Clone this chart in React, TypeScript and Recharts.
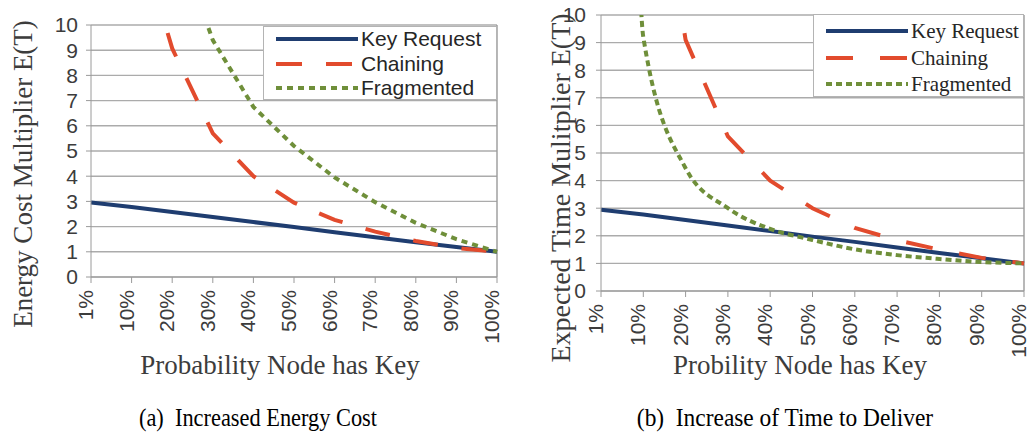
import React from "react";
import {
    LineChart,
    Line,
    XAxis,
    YAxis,
    CartesianGrid,
    ReferenceLine,
} from "recharts";

// probability that a node already holds the key
const categories = ["1%", "10%", "20%", "30%", "40%", "50%", "60%", "70%", "80%", "90%", "100%"];
const yTicks = [0, 1, 2, 3, 4, 5, 6, 7, 8, 9, 10];

// (a) energy cost multiplier
const energyKeyRequest = [2.96, 2.78, 2.58, 2.38, 2.18, 1.98, 1.78, 1.58, 1.38, 1.19, 1.0];
const energyChaining = [60, 14.5, 9.07, 5.7, 4.0, 2.95, 2.27, 1.8, 1.43, 1.15, 1.0];
const energyFragmented = [120, 40, 13.9, 9.4, 6.75, 5.2, 3.95, 2.97, 2.15, 1.5, 1.0];

// (b) expected delivery time multiplier
const timeKeyRequest = [2.94, 2.77, 2.57, 2.37, 2.17, 1.97, 1.78, 1.58, 1.38, 1.19, 1.0];
const timeChaining = [199, 18.6, 9.1, 5.6, 4.0, 3.0, 2.29, 1.84, 1.5, 1.2, 1.0];
const timeFragmented = [150, 9.2, 4.45, 3.0, 2.25, 1.85, 1.51, 1.3, 1.16, 1.05, 1.0];

const seriesNames = ["Key Request", "Chaining", "Fragmented"];

const buildRows = (a: number[], b: number[], c: number[]) =>
    categories.map((p, i) => ({ p, key: a[i], chain: b[i], frag: c[i] }));

const energyData = buildRows(energyKeyRequest, energyChaining, energyFragmented);
const timeData = buildRows(timeKeyRequest, timeChaining, timeFragmented);

const SANS = "'Liberation Sans', Arial, sans-serif";
const SERIF = "'Liberation Serif', 'Times New Roman', serif";
const GRID = "#ababab";
const AXIS = "#9a9a9a";
const TEXT = "#3c3c3c";

const KEY_COLOR = "#1f3d70";
const CHAIN_COLOR = "#e24b2d";
const FRAG_COLOR = "#6f8f3a";

const CategoryTick = ({ x, y, payload }: any) => (
    <text
        x={x}
        y={y}
        transform={`rotate(-90, ${x}, ${y})`}
        textAnchor="end"
        dy={2}
        fontSize={21}
        fontFamily={SANS}
        fill={TEXT}
    >
        {payload.value}
    </text>
);

const LegendBox = ({ style, font, rowTops, dash, dot }: any) => {
    const styles = [
        { color: KEY_COLOR, dash: undefined },
        { color: CHAIN_COLOR, dash },
        { color: FRAG_COLOR, dash: dot },
    ];
    return (
        <div
            style={{
                position: "absolute",
                background: "#fff",
                border: "1px solid #b4b4b4",
                boxSizing: "border-box",
                ...style,
            }}
        >
            {seriesNames.map((name, i) => (
                <div
                    key={name}
                    style={{
                        position: "absolute",
                        left: 12,
                        top: rowTops[i],
                        display: "flex",
                        alignItems: "center",
                        height: 24,
                    }}
                >
                    <svg width={82} height={8}>
                        <line
                            x1={0}
                            y1={4}
                            x2={82}
                            y2={4}
                            stroke={styles[i].color}
                            strokeWidth={4}
                            strokeDasharray={styles[i].dash}
                        />
                    </svg>
                    <span
                        style={{
                            fontFamily: font,
                            fontSize: 21,
                            color: "#262626",
                            marginLeft: 3,
                            whiteSpace: "nowrap",
                            lineHeight: "24px",
                        }}
                    >
                        {name}
                    </span>
                </div>
            ))}
        </div>
    );
};

const Title = ({ text, cx, cy, rotate, size, color, squeeze }: any) => (
    <div
        style={{
            position: "absolute",
            left: cx,
            top: cy,
            transform: `translate(-50%, -50%)${rotate ? " rotate(-90deg)" : ""}${squeeze ? ` scaleX(${squeeze})` : ""}`,
            fontFamily: SERIF,
            fontSize: size,
            color,
            whiteSpace: "pre",
            lineHeight: 1,
        }}
    >
        {text}
    </div>
);

const Panel = ({ data, width, height, margin, yWidth, xHeight, tickMargin, smoothFrag, chainDash, fragDash }: any) => (
    <LineChart width={width} height={height} data={data} margin={margin}>
        <CartesianGrid vertical={false} stroke={GRID} strokeWidth={1.4} />
        <XAxis
            dataKey="p"
            interval={0}
            height={xHeight}
            tickSize={6}
            tickMargin={7}
            tick={<CategoryTick />}
            stroke={AXIS}
        />
        <YAxis
            type="number"
            domain={[0, 10]}
            ticks={yTicks}
            interval={0}
            allowDataOverflow
            width={yWidth}
            tickSize={5}
            tickMargin={tickMargin}
            stroke={AXIS}
            tick={{ fontSize: 21, fontFamily: SANS, fill: TEXT }}
        />
        <ReferenceLine x="100%" stroke={AXIS} strokeWidth={1.4} />
        <Line
            type="linear"
            dataKey="key"
            stroke={KEY_COLOR}
            strokeWidth={4}
            dot={false}
            isAnimationActive={false}
        />
        <Line
            type="linear"
            dataKey="chain"
            stroke={CHAIN_COLOR}
            strokeWidth={4}
            strokeDasharray={chainDash}
            dot={false}
            isAnimationActive={false}
        />
        <Line
            type={smoothFrag ? "monotone" : "linear"}
            dataKey="frag"
            stroke={FRAG_COLOR}
            strokeWidth={4}
            strokeDasharray={fragDash}
            dot={false}
            isAnimationActive={false}
        />
    </LineChart>
);

const App = () => {
    return (
        <div
            style={{
                position: "absolute",
                left: 0,
                top: 0,
                width: 1035,
                height: 434,
                background: "#fff",
                overflow: "hidden",
            }}
        >
            {/* (a) energy cost */}
            <div style={{ position: "absolute", left: 0, top: 0 }}>
                <Panel
                    data={energyData}
                    width={520}
                    height={345}
                    margin={{ top: 25, right: 23, left: 0, bottom: 0 }}
                    yWidth={91}
                    xHeight={68}
                    tickMargin={8}
                    chainDash="25 24"
                    fragDash="6 5"
                />
            </div>
            <LegendBox
                style={{ left: 263, top: 26, width: 234, height: 74 }}
                font={SANS}
                rowTops={[0, 25, 49]}
                dash="26 24"
                dot="6 5"
            />
            <Title text="Energy Cost Multiplier E(T)" cx={23} cy={174} rotate size={27} color={TEXT} />
            <Title text="Probability Node has Key" cx={280} cy={365} size={27} color={TEXT} />

            {/* (b) time to deliver */}
            <div style={{ position: "absolute", left: 520, top: 0 }}>
                <Panel
                    data={timeData}
                    width={515}
                    height={360}
                    margin={{ top: 15, right: 11, left: 0, bottom: 0 }}
                    yWidth={81}
                    xHeight={69}
                    tickMargin={10}
                    smoothFrag
                    chainDash="27 27"
                    fragDash="6 4"
                />
            </div>
            <LegendBox
                style={{ left: 813, top: 14, width: 211, height: 83 }}
                font={SERIF}
                rowTops={[4, 31, 57]}
                dash="27 27"
                dot="6 4"
            />
            <Title text="Expected Time Mulitplier E(T)" cx={561} cy={188} rotate size={28} color={TEXT} />
            <Title text="Probility Node has Key" cx={800} cy={365} size={27} color={TEXT} />

            <Title text="(a)  Increased Energy Cost" cx={258} cy={418} size={26} color="#000" squeeze={0.86} />
            <Title text="(b)  Increase of Time to Deliver" cx={785} cy={418} size={26} color="#000" squeeze={0.9} />
        </div>
    );
};

export default App;
